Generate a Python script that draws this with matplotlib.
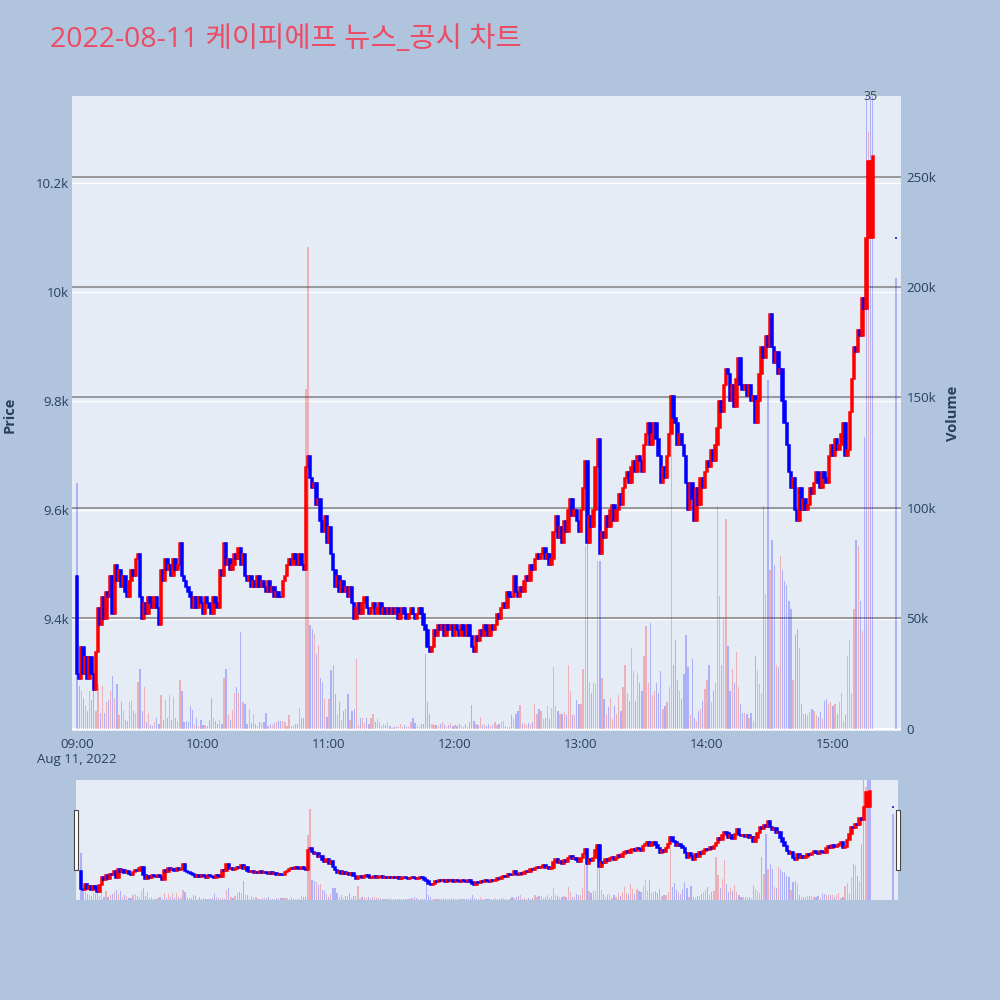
import matplotlib
matplotlib.use("Agg")
import matplotlib.pyplot as plt
from matplotlib.patches import Rectangle
from matplotlib.transforms import blended_transform_factory

plt.rcParams['font.family'] = ['Open Sans', 'Noto Sans CJK KR', 'DejaVu Sans']

title = '2022-08-11 케이피에프 뉴스_공시 차트'

# 1분봉 종가 (09:00 ~ 15:19), 시가는 직전 종가
first_open = 9480
close = [
    9300, 9290, 9350, 9300, 9330, 9290, 9330, 9300, 9270, 9340,
    9420, 9390, 9440, 9400, 9450, 9440, 9480, 9410, 9500, 9470,
    9490, 9460, 9480, 9450, 9440, 9470, 9490, 9480, 9510, 9520,
    9440, 9400, 9430, 9410, 9440, 9430, 9420, 9440, 9420, 9390,
    9490, 9470, 9510, 9490, 9500, 9480, 9510, 9490, 9500, 9540,
    9480, 9470, 9460, 9450, 9440, 9420, 9440, 9420, 9440, 9430,
    9410, 9440, 9430, 9420, 9410, 9440, 9430, 9420, 9490, 9480,
    9540, 9500, 9510, 9490, 9500, 9520, 9510, 9530, 9500, 9520,
    9480, 9470, 9480, 9460, 9470, 9460, 9480, 9460, 9470, 9460,
    9450, 9470, 9450, 9460, 9440, 9450, 9440, 9440, 9470, 9480,
    9500, 9510, 9500, 9520, 9510, 9500, 9520, 9500, 9490, 9680,
    9700, 9660, 9640, 9650, 9610, 9620, 9580, 9560, 9590, 9540,
    9570, 9520, 9490, 9460, 9480, 9450, 9470, 9450, 9460, 9440,
    9460, 9430, 9400, 9420, 9430, 9410, 9430, 9440, 9420, 9410,
    9420, 9430, 9410, 9420, 9430, 9410, 9420, 9410, 9420, 9410,
    9420, 9410, 9420, 9400, 9410, 9420, 9410, 9400, 9410, 9420,
    9410, 9400, 9410, 9420, 9410, 9390, 9380, 9350, 9340, 9350,
    9380, 9370, 9390, 9380, 9390, 9370, 9390, 9380, 9390, 9370,
    9390, 9380, 9370, 9390, 9380, 9370, 9390, 9370, 9350, 9340,
    9370, 9360, 9380, 9370, 9390, 9380, 9370, 9390, 9380, 9390,
    9410, 9400, 9420, 9430, 9420, 9450, 9440, 9440, 9480, 9450,
    9440, 9460, 9450, 9470, 9480, 9470, 9500, 9490, 9510, 9520,
    9510, 9520, 9530, 9510, 9520, 9500, 9510, 9560, 9590, 9550,
    9570, 9540, 9580, 9560, 9600, 9620, 9590, 9600, 9580, 9560,
    9600, 9640, 9690, 9540, 9590, 9570, 9600, 9680, 9730, 9520,
    9560, 9550, 9590, 9570, 9600, 9610, 9580, 9600, 9630, 9610,
    9640, 9660, 9670, 9650, 9680, 9690, 9670, 9700, 9690, 9670,
    9720, 9740, 9760, 9720, 9740, 9760, 9730, 9700, 9650, 9680,
    9660, 9700, 9740, 9810, 9770, 9760, 9720, 9740, 9720, 9700,
    9650, 9600, 9650, 9620, 9580, 9640, 9610, 9660, 9640, 9670,
    9690, 9680, 9710, 9690, 9720, 9750, 9800, 9780, 9830, 9860,
    9850, 9800, 9830, 9790, 9840, 9880, 9830, 9820, 9830, 9810,
    9830, 9800, 9810, 9760, 9800, 9850, 9900, 9880, 9920, 9900,
    9960, 9900, 9870, 9890, 9850, 9860, 9800, 9760, 9720, 9670,
    9640, 9660, 9600, 9580, 9640, 9600, 9620, 9600, 9610, 9640,
    9630, 9650, 9670, 9650, 9640, 9670, 9660, 9650, 9700, 9720,
    9700, 9730, 9710, 9720, 9740, 9760, 9700, 9710, 9780, 9840,
    9900, 9890, 9930, 9920, 9990, 9970, 10100, 10240, 10240, 10250,
]
gap_open = {378: 10100, 379: 10100}   # 갭 시가

# 거래량 (천주)
volume_k = [
    111, 19.5, 17, 14, 10, 8, 17, 13, 21, 8,
    20, 7, 19.5, 7, 12, 13, 17, 24, 14, 20,
    6, 12, 8, 4, 3.6, 12, 13, 8, 7, 21,
    27, 8, 19, 3, 7, 1.7, 1, 3, 5, 2,
    15, 4, 13, 5, 15, 4, 14.5, 5, 3.6, 22,
    17, 3, 3.6, 3, 10, 8.5, 2, 5, 1, 4,
    1.5, 1.6, 1, 4, 14, 5, 3.6, 2, 4, 2,
    23, 27, 6, 4, 8.5, 16, 19, 16, 43.6, 12,
    11, 2, 9, 2.5, 6.5, 2, 1, 3, 2.5, 3,
    7, 1, 2, 1.6, 2.5, 3, 3.6, 3.6, 3.3, 3,
    1, 6, 1, 1, 2, 2, 9.5, 5, 5, 154,
    218, 47, 45, 43, 34, 38, 23, 21, 13.4, 5.4,
    13.4, 26.6, 28.6, 15.7, 6.6, 12, 4, 8, 9, 15.7,
    4, 8, 9, 31.6, 1.7, 5, 5, 2.5, 5, 2,
    5, 6.6, 3, 4.5, 3, 1, 2, 1.4, 3, 1,
    0.3, 0.6, 1, 0.6, 2, 0.6, 1.4, 0.6, 0.6, 3,
    5, 2.5, 1, 0.6, 2, 2.2, 34, 12, 6.6, 2,
    1.4, 1.4, 1, 2, 3, 1.4, 0.6, 1.4, 2.5, 1,
    1.4, 1, 2, 1, 0.6, 2, 0.6, 3, 10.7, 3.5,
    2, 1.4, 5.4, 1.4, 2, 1, 2, 1, 1.4, 3,
    1.4, 2, 3, 3.6, 1, 0.6, 0.6, 6.3, 4.5, 6.6,
    8, 10.7, 2, 2.5, 1.4, 2.5, 2, 3, 11, 6.6,
    9, 8, 4.5, 5, 10, 4.5, 9.5, 28, 10, 8,
    6.6, 6.6, 7.5, 6, 29, 17, 6, 6.3, 13, 11,
    11, 27, 82.6, 87, 21, 16, 20.5, 20, 76, 76,
    23, 13.6, 6.6, 9.7, 14, 4.5, 10, 6.6, 15, 8,
    18.7, 29, 16, 12.7, 36.7, 26, 12.7, 25, 20.5, 17,
    33, 46.6, 20.5, 48, 15, 17, 20.5, 16, 26, 9,
    10, 12, 18.7, 150, 29, 40, 22, 17, 13.6, 24.6,
    42.3, 28, 6, 31.7, 5, 3.6, 8, 9, 12.7, 17.7,
    22, 29, 12, 17, 20.5, 101, 60, 28.6, 50, 95,
    37.6, 17, 27, 20.5, 34.7, 18.7, 11, 7, 7, 6.6,
    5, 7, 3.6, 33, 26, 20, 16, 101, 61, 158,
    72, 85.6, 74, 29, 28, 78, 72, 67, 65, 57.6,
    54, 22, 42.5, 45, 36.7, 11, 6.6, 6.6, 6, 7.5,
    9, 8, 6, 5.4, 7.5, 4.5, 12.7, 13.5, 11, 12,
    10, 11, 6.6, 12, 16, 3.6, 6, 33, 40, 16,
    54, 85.6, 82.6, 57.6, 44, 132, 300, 270, 300, 300,
]
vol_down = [376, 378, 379]   # 파란 거래량 막대

# 15:30 동시호가
close_auction = 10100
volume_auction_k = 204

bar_notes = {376: '3', 379: '5'}

tick_minutes = [0, 60, 120, 180, 240, 300, 360]
tick_labels = ['09:00\nAug 11, 2022', '10:00', '11:00', '12:00', '13:00', '14:00', '15:00']
price_ticks = [9400, 9600, 9800, 10000, 10200]
price_labels = ['9.4k', '9.6k', '9.8k', '10k', '10.2k']
vol_ticks = [0, 50000, 100000, 150000, 200000, 250000]
vol_labels = ['0', '50k', '100k', '150k', '200k', '250k']

# ---- 데이터 정리
x = list(range(len(close))) + [390]
opens = [first_open] + close[:-1]
for k, v in gap_open.items():
    opens[k] = v
opens = opens + [close_auction]
closes = close + [close_auction]
vols = [v * 1000 for v in volume_k] + [volume_auction_k * 1000]
up = [c > o for o, c in zip(opens, closes)]
candle_col = ['#ff0000' if u else '#0000ff' for u in up]
vol_col = [(1, 0, 0, 0.25) if u else (0, 0, 1, 0.25) for u in up]
for k in vol_down:
    vol_col[k] = (0, 0, 1, 0.25)

BG = '#b0c4de'
PLOT_BG = '#e5ecf6'
TXT = '#2a3f5f'
XLIM = (-2.4, 392.4)
PLIM = (9195, 10360)
VLIM = (-1100, 286500)


def draw(ax_v, ax_p, full=True):
    ax_v.set_facecolor(PLOT_BG)
    ax_p.set_facecolor('none')
    if full:
        tr = blended_transform_factory(ax_v.transAxes, ax_p.transData)
        for p in price_ticks:
            ax_v.plot([0, 1], [p, p], color='white', lw=1.0, transform=tr, zorder=1)
        for v in vol_ticks[1:]:
            ax_v.axhline(v, color='#8a8a8a', lw=1.2, zorder=1)
        ax_v.axhline(0, color='white', lw=1.5, zorder=1)
    ax_v.bar(x, vols, width=0.6, color=vol_col, linewidth=0, zorder=2)
    ax_p.bar(x, [c - o for o, c in zip(opens, closes)], bottom=opens, width=1.2,
             color=candle_col, edgecolor=candle_col, linewidth=1.1, zorder=3)
    for a in (ax_v, ax_p):
        a.set_xlim(*XLIM)
        for s in a.spines.values():
            s.set_visible(False)
    ax_v.set_ylim(*VLIM)
    ax_p.set_ylim(*PLIM)


fig = plt.figure(figsize=(10, 10), dpi=100, facecolor=BG)

# 메인 차트
rect = [0.072, 0.269, 0.829, 0.635]
ax_v = fig.add_axes(rect)
ax_p = fig.add_axes(rect, sharex=ax_v)
draw(ax_v, ax_p)

ax_v.yaxis.tick_right()
ax_v.set_yticks(vol_ticks)
ax_v.set_yticklabels(vol_labels)
ax_v.tick_params(axis='y', length=0, pad=4, labelsize=9.5, labelcolor=TXT)
ax_v.set_xticks(tick_minutes)
ax_v.set_xticklabels(tick_labels)
ax_v.tick_params(axis='x', length=0, pad=5, labelsize=9.5, labelcolor=TXT)

ax_p.yaxis.tick_left()
ax_p.set_yticks(price_ticks)
ax_p.set_yticklabels(price_labels)
ax_p.tick_params(axis='y', length=0, pad=2, labelsize=9.5, labelcolor=TXT)
ax_p.tick_params(axis='x', bottom=False, labelbottom=False)

for k, t in bar_notes.items():
    ax_p.text(k, 1.0, t, transform=blended_transform_factory(ax_p.transData, ax_p.transAxes),
              ha='center', va='center', fontsize=9, color='#444444', clip_on=False)

fig.text(0.010, 0.585, 'Price', rotation=90, ha='center', va='center',
         fontsize=10.5, fontweight='bold', color=TXT)
fig.text(0.953, 0.587, 'Volume', rotation=90, ha='center', va='center',
         fontsize=10.5, fontweight='bold', color=TXT)
fig.text(0.050, 0.960, title, ha='left', va='center', fontsize=20.5, color='#eb4b64')

# 레인지 슬라이더
srect = [0.076, 0.100, 0.822, 0.120]
as_v = fig.add_axes(srect)
as_p = fig.add_axes(srect, sharex=as_v)
draw(as_v, as_p, full=False)
for a in (as_v, as_p):
    a.set_xticks([])
    a.set_yticks([])

for hx in (0.0735, 0.8960):
    fig.add_artist(Rectangle((hx, 0.130), 0.004, 0.060, transform=fig.transFigure,
                             facecolor='white', edgecolor='#444444', lw=0.8))

fig.savefig('out.png', dpi=100, facecolor=BG)
